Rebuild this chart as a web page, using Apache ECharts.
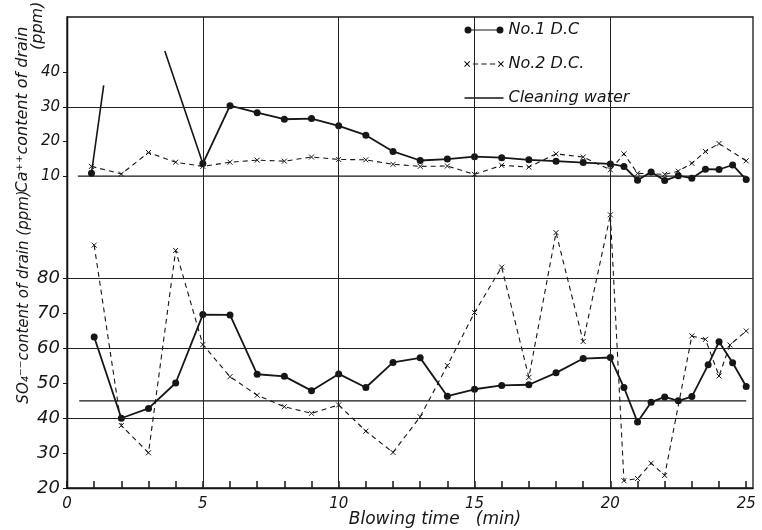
<!DOCTYPE html>
<html><head><meta charset="utf-8">
<script src="https://cdn.jsdelivr.net/npm/echarts@6/dist/echarts.min.js"></script>
<style>html,body{margin:0;padding:0;background:#fff}#c{width:762px;height:530px}</style>
</head><body><div id="c"></div>
<script>
// ---- tick / label values ----
const xTickValues = [0,1,2,3,4,5,6,7,8,9,10,11,12,13,14,15,16,17,18,19,20,21,22,23,24,25];
const xLabelValues = [0,5,10,15,20,25];
const caTickValues = [10,20,30,40];
const so4TickValues = [20,30,40,50,60,70,80];
const xGridLines = [5,10,15,20];
const caGridLines = [30];
const so4GridLines = [40,60,80];

// ---- Ca++ content (top) ----
const caNo1Time  = [0.9, null, 5, 6, 7, 8, 9, 10, 11, 12, 13, 14, 15, 16, 17, 18, 19, 20, 20.5, 21, 21.5, 22, 22.5, 23, 23.5, 24, 24.5, 25];
const caNo1Value = [10.8, null, 13.6, 30.3, 28.3, 26.4, 26.6, 24.5, 21.8, 17.1, 14.5, 14.9, 15.6, 15.3, 14.7, 14.3, 13.9, 13.5, 12.8, 8.8, 11.2, 8.7, 10.1, 9.4, 12.0, 11.9, 13.2, 9.0];
const caNo1OffTime  = [0.9, 1.35, null, 3.6, 5];
const caNo1OffValue = [10.8, 36.2, null, 46.1, 13.6];
const caNo2Time  = [0.9, 2, 3, 4, 5, 6, 7, 8, 9, 10, 11, 12, 13, 14, 15, 16, 17, 18, 19, 20, 20.5, 21, 22, 22.5, 23, 23.5, 24, 25];
const caNo2Value = [12.8, 10.6, 16.8, 14.0, 12.8, 14.0, 14.6, 14.3, 15.5, 14.8, 14.7, 13.4, 12.8, 12.9, 10.5, 13.1, 12.6, 16.4, 15.5, 11.8, 16.4, 10.8, 10.5, 11.4, 13.7, 17.1, 19.4, 14.4];
const caCleanTime  = [0.4, 25];
const caCleanValue = [10, 10];

// ---- SO4-- content (bottom) ----
const soNo1Time  = [1, 2, 3, 4, 5, 6, 7, 8, 9, 10, 11, 12, 13, 14, 15, 16, 17, 18, 19, 20, 20.5, 21, 21.5, 22, 22.5, 23, 23.6, 24, 24.5, 25];
const soNo1Value = [63.3, 40.0, 42.8, 50.1, 69.7, 69.6, 52.6, 52.0, 47.9, 52.7, 48.8, 56.0, 57.3, 46.3, 48.3, 49.4, 49.6, 53.0, 57.1, 57.4, 48.8, 38.9, 44.6, 46.1, 45.0, 46.2, 55.3, 61.9, 55.9, 49.1];
const soNo2Time  = [1, 2, 3, 4, 5, 6, 7, 8, 9, 10, 11, 12, 13, 14, 15, 16, 17, 18, 19, 20, 20.5, 21, 21.5, 22, 23, 23.5, 24, 24.4, 25];
const soNo2Value = [89.6, 37.9, 30.1, 88.1, 61.1, 51.9, 46.6, 43.3, 41.4, 43.8, 36.3, 30.2, 40.4, 55.1, 70.3, 83.3, 51.7, 93.2, 62.0, 98.3, 22.1, 22.7, 27.1, 23.6, 63.6, 62.6, 52.1, 61.0, 65.0];
const soCleanTime  = [0.45, 25];
const soCleanValue = [45, 45];

const pairs = (t, v) => t.map((x, i) => (x == null ? ['-', '-'] : [x, v[i]]));

const INK = '#161616';
const FONT = 'DejaVu Sans';
const X_SYMBOL = 'path://M0,0L10,10M10,0L0,10';

const gridLine = (arr, key) => ({
  silent: true, symbol: ['none', 'none'], animation: false,
  label: { show: false }, emphasis: { disabled: true },
  lineStyle: { color: '#222', width: 1, type: 'solid' },
  data: arr.map(v => ({ [key]: v }))
});

const chart = echarts.init(document.getElementById('c'), null, { renderer: 'canvas' });
chart.setOption({
  animation: false,
  backgroundColor: '#ffffff',
  grid: { left: 67, right: 9, top: 17, bottom: 42, outerBoundsMode: 'none', containLabel: false,
          show: true, borderColor: INK, borderWidth: 1.3, backgroundColor: 'transparent' },
  legend: {
    orient: 'vertical', left: 457, top: 16, itemWidth: 39, itemHeight: 7, itemGap: 16,
    selectedMode: false,
    textStyle: { fontFamily: FONT, fontStyle: 'italic', fontSize: 16, color: INK, lineHeight: 18 },
    data: [
      { name: 'No.1 D.C', icon: 'path://M0.5,4a3.5,3.5 0 1,0 7,0a3.5,3.5 0 1,0 -7,0zM7.5,3.4L32.5,3.4L32.5,4.6L7.5,4.6zM32.5,4a3.5,3.5 0 1,0 7,0a3.5,3.5 0 1,0 -7,0z',
        itemStyle: { color: INK, borderWidth: 0 } },
      { name: 'No.2 D.C.', icon: 'path://M0,1L5,6M0,6L5,1M8,3.5L13,3.5M16,3.5L21,3.5M24,3.5L29,3.5M32,1L37,6M32,6L37,1',
        itemStyle: { color: 'none', borderColor: INK, borderWidth: 1.1 } },
      { name: 'Cleaning water', icon: 'path://M0,0L34,0L34,1.4L0,1.4z',
        itemStyle: { color: INK, borderWidth: 0 } }
    ]
  },
  xAxis: {
    type: 'value', min: 0, max: 25.25,
    name: 'Blowing time   (min)', nameLocation: 'middle', nameGap: 23, nameMoveOverlap: false,
    nameTextStyle: { fontFamily: FONT, fontStyle: 'italic', fontSize: 17, color: INK, padding: [0, 0, 0, 50] },
    axisLine: { show: true, onZero: false, lineStyle: { color: INK, width: 1.3 } },
    axisTick: { show: true, inside: true, length: 7, customValues: xTickValues, lineStyle: { color: INK, width: 1.5 } },
    axisLabel: { customValues: xLabelValues, fontFamily: FONT, fontStyle: 'italic', fontSize: 15, color: INK, margin: 9 },
    splitLine: { show: false }
  },
  yAxis: [
    {
      type: 'value', min: 20, max: 155, position: 'left',
      name: 'SO₄⁻⁻content of drain (ppm)', nameLocation: 'middle', nameGap: 35, nameRotate: 90, nameMoveOverlap: false,
      nameTextStyle: { fontFamily: FONT, fontStyle: 'italic', fontSize: 15, color: INK, padding: [0, 89, 0, 0] },
      axisLine: { show: true, onZero: false, lineStyle: { color: INK, width: 1.3 } },
      axisTick: { show: true, length: 4, customValues: so4TickValues, lineStyle: { color: INK } },
      axisLabel: { customValues: so4TickValues, fontFamily: FONT, fontStyle: 'italic', fontSize: 18, color: INK, margin: 7 },
      splitLine: { show: false }
    },
    {
      type: 'value', min: -80, max: 55.9, position: 'left',
      name: '{a|Ca⁺⁺content of drain}{sp|}\n{b|(ppm)}', nameLocation: 'middle', nameGap: 22, nameRotate: 90, nameMoveOverlap: false,
      nameTextStyle: {
        fontFamily: FONT, fontStyle: 'italic', fontSize: 16, color: INK, padding: [0, 0, 0, 311],
        rich: {
          a: { fontFamily: FONT, fontStyle: 'italic', fontSize: 16, color: INK, lineHeight: 15 },
          sp: { width: 25, lineHeight: 15 },
          b: { fontFamily: FONT, fontStyle: 'italic', fontSize: 16, color: INK, lineHeight: 15, align: 'right' }
        }
      },
      axisLine: { show: true, onZero: false, lineStyle: { color: INK, width: 1.3 } },
      axisTick: { show: true, length: 4, customValues: caTickValues, lineStyle: { color: INK } },
      axisLabel: { customValues: caTickValues, fontFamily: FONT, fontStyle: 'italic', fontSize: 15, color: INK, margin: 7 },
      splitLine: { show: false }
    }
  ],
  series: [
    { name: 'Cleaning water', type: 'line', yAxisIndex: 1, data: pairs(caCleanTime, caCleanValue),
      symbol: 'none', lineStyle: { color: INK, width: 1.3 }, itemStyle: { color: INK }, silent: true,
      markLine: gridLine(caGridLines, 'yAxis') },
    { name: 'Cleaning water', type: 'line', yAxisIndex: 0, data: pairs(soCleanTime, soCleanValue),
      symbol: 'none', lineStyle: { color: INK, width: 1.3 }, itemStyle: { color: INK }, silent: true,
      markLine: { ...gridLine(so4GridLines, 'yAxis'), data: [...so4GridLines.map(v => ({ yAxis: v })), ...xGridLines.map(v => ({ xAxis: v }))] } },
    { name: 'No.1 D.C', type: 'line', yAxisIndex: 1, data: pairs(caNo1OffTime, caNo1OffValue),
      symbol: 'none', connectNulls: false, lineStyle: { color: INK, width: 1.6 }, itemStyle: { color: INK }, silent: true },
    { name: 'No.1 D.C', type: 'line', yAxisIndex: 1, data: pairs(caNo1Time, caNo1Value),
      symbol: 'circle', symbolSize: 7, connectNulls: false, lineStyle: { color: INK, width: 1.8 }, itemStyle: { color: INK }, silent: true },
    { name: 'No.2 D.C.', type: 'line', yAxisIndex: 1, data: pairs(caNo2Time, caNo2Value),
      symbol: X_SYMBOL, symbolSize: 5, lineStyle: { color: INK, width: 1.1, type: [5, 4] },
      itemStyle: { color: 'none', borderColor: INK, borderWidth: 1 }, silent: true },
    { name: 'No.1 D.C', type: 'line', yAxisIndex: 0, data: pairs(soNo1Time, soNo1Value),
      symbol: 'circle', symbolSize: 7, lineStyle: { color: INK, width: 1.8 }, itemStyle: { color: INK }, silent: true },
    { name: 'No.2 D.C.', type: 'line', yAxisIndex: 0, data: pairs(soNo2Time, soNo2Value),
      symbol: X_SYMBOL, symbolSize: 5, lineStyle: { color: INK, width: 1.1, type: [5, 4] },
      itemStyle: { color: 'none', borderColor: INK, borderWidth: 1 }, silent: true }
  ]
});
</script></body></html>
